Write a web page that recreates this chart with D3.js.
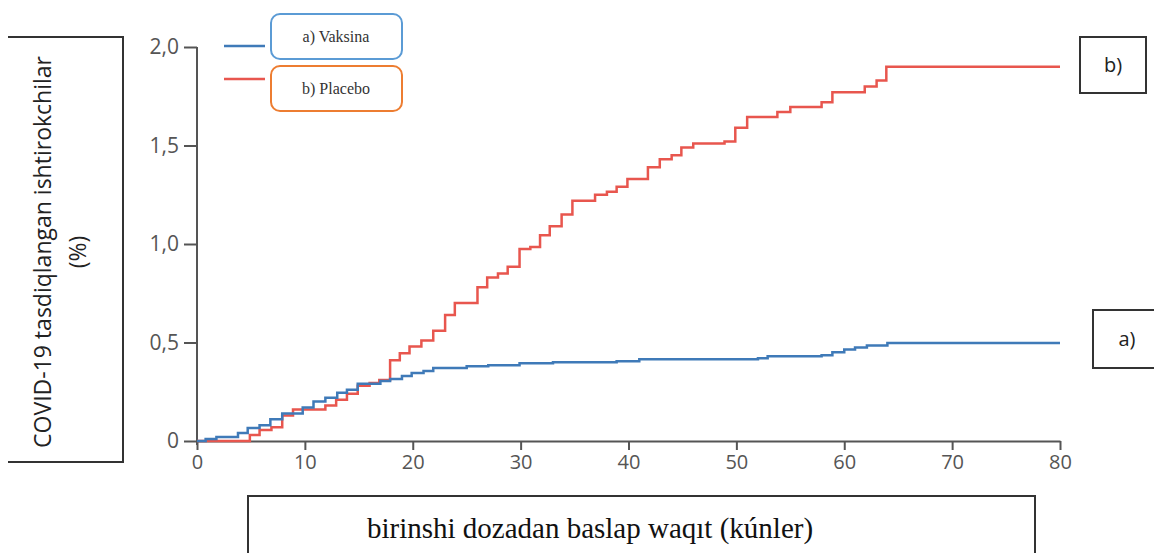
<!DOCTYPE html>
<html>
<head>
<meta charset="utf-8">
<script src="https://cdn.jsdelivr.net/npm/d3@7"></script>
<style>
  body { margin: 0; background: #fff; }
  svg { display: block; }
  .serif { font-family: "Liberation Serif", "DejaVu Serif", "Times New Roman", serif; }
  .sans { font-family: "Open Sans", "Noto Sans", sans-serif; }
</style>
</head>
<body>
<script>
'use strict';

// cumulative incidence, step data
const vaccineDays = [0, 0.8, 1.8, 3.8, 4.7, 5.8, 6.8, 7.9, 9.8, 10.8, 11.9, 13.0, 13.9, 14.9, 17.0, 17.9, 19.0, 19.9, 21.0, 21.9, 25.0, 27.0, 29.9, 33.0, 38.9, 41.0, 52.0, 52.9, 57.9, 58.9, 60.0, 61.0, 62.1, 64.0, 80];
const vaccineValues = [0, 0.01, 0.02, 0.04, 0.066, 0.08, 0.11, 0.14, 0.17, 0.20, 0.22, 0.245, 0.26, 0.29, 0.305, 0.315, 0.33, 0.345, 0.355, 0.37, 0.38, 0.385, 0.395, 0.40, 0.405, 0.415, 0.42, 0.43, 0.435, 0.45, 0.465, 0.475, 0.485, 0.497, 0.497];

const placeboDays = [0, 4.9, 5.8, 6.9, 7.9, 8.9, 11.9, 12.9, 13.9, 14.9, 16.0, 16.9, 17.9, 18.8, 19.7, 20.8, 21.9, 23.0, 23.9, 26.0, 26.9, 27.9, 28.8, 29.9, 30.9, 31.8, 32.7, 33.8, 34.8, 36.9, 38.0, 38.9, 39.9, 41.8, 42.9, 44.0, 44.9, 46.0, 48.9, 49.9, 51.0, 53.8, 55.0, 57.9, 58.9, 61.9, 63.0, 63.9, 80];
const placeboValues = [0, 0.03, 0.056, 0.07, 0.13, 0.16, 0.18, 0.21, 0.24, 0.28, 0.295, 0.31, 0.41, 0.445, 0.48, 0.51, 0.56, 0.64, 0.70, 0.78, 0.83, 0.85, 0.885, 0.975, 0.985, 1.045, 1.09, 1.15, 1.22, 1.25, 1.265, 1.29, 1.33, 1.39, 1.43, 1.45, 1.49, 1.51, 1.52, 1.59, 1.645, 1.67, 1.695, 1.72, 1.77, 1.80, 1.83, 1.90, 1.90];

const xTicks = [0, 10, 20, 30, 40, 50, 60, 70, 80];
const yTicks = [0, 0.5, 1.0, 1.5, 2.0];
const yTickLabels = ["0", "0,5", "1,0", "1,5", "2,0"];

const seriesNames = ["a) Vaksina", "b) Placebo"];
const seriesTags = ["a)", "b)"];

const blue = "#3f7ab8";
const red = "#e8564e";
const axisColor = "#555";

const svg = d3.select("body").append("svg")
    .attr("width", 1154)
    .attr("height", 553);

const x = d3.scaleLinear().domain([0, 80]).range([197, 1060]);
const y = d3.scaleLinear().domain([0, 2]).range([441, 47]);

// y axis
const yAxis = svg.append("g")
    .attr("transform", "translate(197,0)")
    .call(d3.axisLeft(y)
        .tickValues(yTicks)
        .tickFormat((d, i) => yTickLabels[i])
        .tickSize(13)
        .tickSizeOuter(0)
        .tickPadding(5));
yAxis.select(".domain").attr("stroke", axisColor).attr("stroke-width", 2)
    .attr("d", "M0," + y(2) + "V" + (y(0) + 4));
yAxis.selectAll(".tick line").attr("stroke", axisColor).attr("stroke-width", 2);
yAxis.selectAll(".tick text")
    .attr("class", "sans")
    .attr("fill", axisColor)
    .attr("font-size", 21);

// x axis
const xAxis = svg.append("g")
    .attr("transform", "translate(0,441)")
    .call(d3.axisBottom(x)
        .tickValues(xTicks)
        .tickSize(9)
        .tickSizeOuter(0)
        .tickPadding(5));
xAxis.select(".domain").attr("stroke", axisColor).attr("stroke-width", 2);
xAxis.selectAll(".tick line").attr("stroke", axisColor).attr("stroke-width", 2);
xAxis.selectAll(".tick text")
    .attr("class", "sans")
    .attr("fill", axisColor)
    .attr("font-size", 20);
yAxis.attr("font-family", null);
xAxis.attr("font-family", null);

// step lines
const line = d3.line()
    .x(d => x(d[0]))
    .y(d => y(d[1]))
    .curve(d3.curveStepAfter);

const vaccine = vaccineDays.map((d, i) => [d, vaccineValues[i]]);
const placebo = placeboDays.map((d, i) => [d, placeboValues[i]]);

svg.append("path")
    .datum(placebo)
    .attr("fill", "none")
    .attr("stroke", red)
    .attr("stroke-width", 2.5)
    .attr("d", line);

svg.append("path")
    .datum(vaccine)
    .attr("fill", "none")
    .attr("stroke", blue)
    .attr("stroke-width", 2.5)
    .attr("d", line);

// legend
const legend = [
    { name: seriesNames[0], color: blue, border: "#5b9bd5", ly: 46, by: 14 },
    { name: seriesNames[1], color: red, border: "#ed7d31", ly: 79, by: 66 }
];
legend.forEach(function (d) {
    svg.append("line")
        .attr("x1", 224).attr("x2", 265)
        .attr("y1", d.ly).attr("y2", d.ly)
        .attr("stroke", d.color)
        .attr("stroke-width", 2.5);
    svg.append("rect")
        .attr("x", 271).attr("y", d.by)
        .attr("width", 131).attr("height", 45)
        .attr("rx", 9)
        .attr("fill", "#fff")
        .attr("stroke", d.border)
        .attr("stroke-width", 2);
    svg.append("text")
        .attr("class", "serif")
        .attr("x", 336).attr("y", d.by + 28)
        .attr("text-anchor", "middle")
        .attr("font-size", 16)
        .attr("fill", "#333")
        .text(d.name);
});

// tag boxes at line ends
svg.append("rect")
    .attr("x", 1080).attr("y", 37)
    .attr("width", 66).attr("height", 56)
    .attr("fill", "none").attr("stroke", "#333").attr("stroke-width", 2);
svg.append("text")
    .attr("class", "sans")
    .attr("x", 1113).attr("y", 72)
    .attr("text-anchor", "middle")
    .attr("font-size", 20)
    .attr("fill", "#222")
    .text(seriesTags[1]);

svg.append("path")
    .attr("d", "M1156,310H1093V368H1156")
    .attr("fill", "none").attr("stroke", "#333").attr("stroke-width", 2);
svg.append("text")
    .attr("class", "sans")
    .attr("x", 1127).attr("y", 346)
    .attr("text-anchor", "middle")
    .attr("font-size", 20)
    .attr("fill", "#222")
    .text(seriesTags[0]);

// y label box
svg.append("path")
    .attr("d", "M8,37H123V462H8")
    .attr("fill", "none").attr("stroke", "#333").attr("stroke-width", 2);
const yLab = svg.append("text")
    .attr("class", "sans")
    .attr("transform", "translate(51,252) rotate(-90)")
    .attr("text-anchor", "middle")
    .attr("font-size", 23)
    .attr("fill", "#222");
yLab.append("tspan").attr("x", 0).attr("y", 0).text("COVID-19 tasdiqlangan ishtirokchilar");
yLab.append("tspan").attr("x", 0).attr("y", 35).text("(%)");

// x label box
svg.append("path")
    .attr("d", "M248,556V496H1035V556")
    .attr("fill", "none").attr("stroke", "#333").attr("stroke-width", 2);
svg.append("text")
    .attr("class", "serif")
    .attr("x", 590).attr("y", 538)
    .attr("text-anchor", "middle")
    .attr("font-size", 29)
    .attr("fill", "#111")
    .text("birinshi dozadan baslap waqıt (kúnler)");
</script>
</body>
</html>
